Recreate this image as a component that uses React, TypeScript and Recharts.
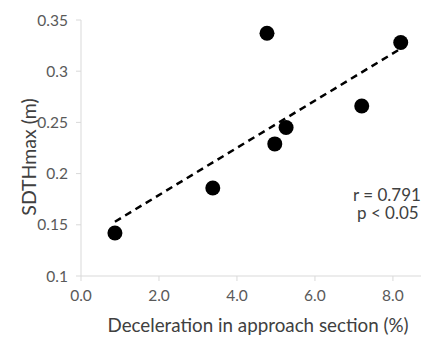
import { ScatterChart, Scatter, XAxis, YAxis, ReferenceLine, Label } from 'recharts'

// deceleration in approach section (%) vs SDTHmax (m)
const decel = [0.87, 3.38, 4.77, 4.97, 5.26, 7.2, 8.2]
const sdthMax = [0.142, 0.186, 0.337, 0.229, 0.245, 0.266, 0.328]

// dashed trend line ends
const trendX = [0.87, 8.2]
const trendY = [0.153, 0.322]

const xTicks = [0, 2, 4, 6, 8]
const yTicks = [0.1, 0.15, 0.2, 0.25, 0.3, 0.35]

const points = decel.map((x, i) => ({ x, y: sdthMax[i] }))

const FONT = 'Lato, "Open Sans", sans-serif'
const AXIS = '#d9d9d9'
const TICK = '#595959'
const TITLE = '#404040'

function YTitle(props: any) {
  const { viewBox } = props
  const cx = 28
  const cy = viewBox.y + viewBox.height / 2 + 9
  return (
    <text
      x={cx}
      y={cy}
      transform={`rotate(-90, ${cx}, ${cy})`}
      textAnchor="middle"
      dominantBaseline="central"
      fill={TITLE}
      fontSize={19.5}
      fontFamily={FONT}
    >
      SDTHmax (m)
    </text>
  )
}

const noteStyle = {
  position: 'absolute' as const,
  fontFamily: FONT,
  fontSize: 17,
  color: TITLE,
  lineHeight: '17px',
  whiteSpace: 'nowrap' as const,
}

export default function App() {
  return (
    <div style={{ position: 'absolute', left: 0, top: 0, width: 421, height: 338, background: '#fff', overflow: 'hidden' }}>
      <ScatterChart width={421} height={338} margin={{ top: 20, right: 0, bottom: 0, left: 0 }}>
        <XAxis
          type="number"
          dataKey="x"
          domain={[0, 8.72]}
          ticks={xTicks}
          tickFormatter={(v: number) => v.toFixed(1)}
          height={62}
          stroke={AXIS}
          tickSize={5}
          tickMargin={9}
          tick={{ fill: TICK, fontSize: 15.5, fontFamily: FONT }}
          allowDataOverflow
        >
          <Label
            value="Deceleration in approach section (%)"
            position="insideBottom"
            offset={6}
            dx={7}
            fill={TITLE}
            fontSize={18.8}
            fontFamily={FONT}
          />
        </XAxis>
        <YAxis
          type="number"
          dataKey="y"
          domain={[0.1, 0.35]}
          ticks={yTicks}
          width={81}
          stroke={AXIS}
          tickSize={5}
          tickMargin={8}
          tick={{ fill: TICK, fontSize: 15.5, fontFamily: FONT }}
          allowDataOverflow
        >
          <Label content={<YTitle />} />
        </YAxis>
        <ReferenceLine
          segment={[
            { x: trendX[0], y: trendY[0] },
            { x: trendX[1], y: trendY[1] },
          ]}
          stroke="#000"
          strokeWidth={2.5}
          strokeDasharray="7 5"
        />
        <Scatter data={points} fill="#000" isAnimationActive={false} shape={(p: any) => <circle cx={p.cx} cy={p.cy} r={7.5} fill="#000" />} />
      </ScatterChart>
      <div style={{ ...noteStyle, left: 353, top: 186 }}>r = 0.791</div>
      <div style={{ ...noteStyle, left: 357, top: 204 }}>p &lt; 0.05</div>
    </div>
  )
}
